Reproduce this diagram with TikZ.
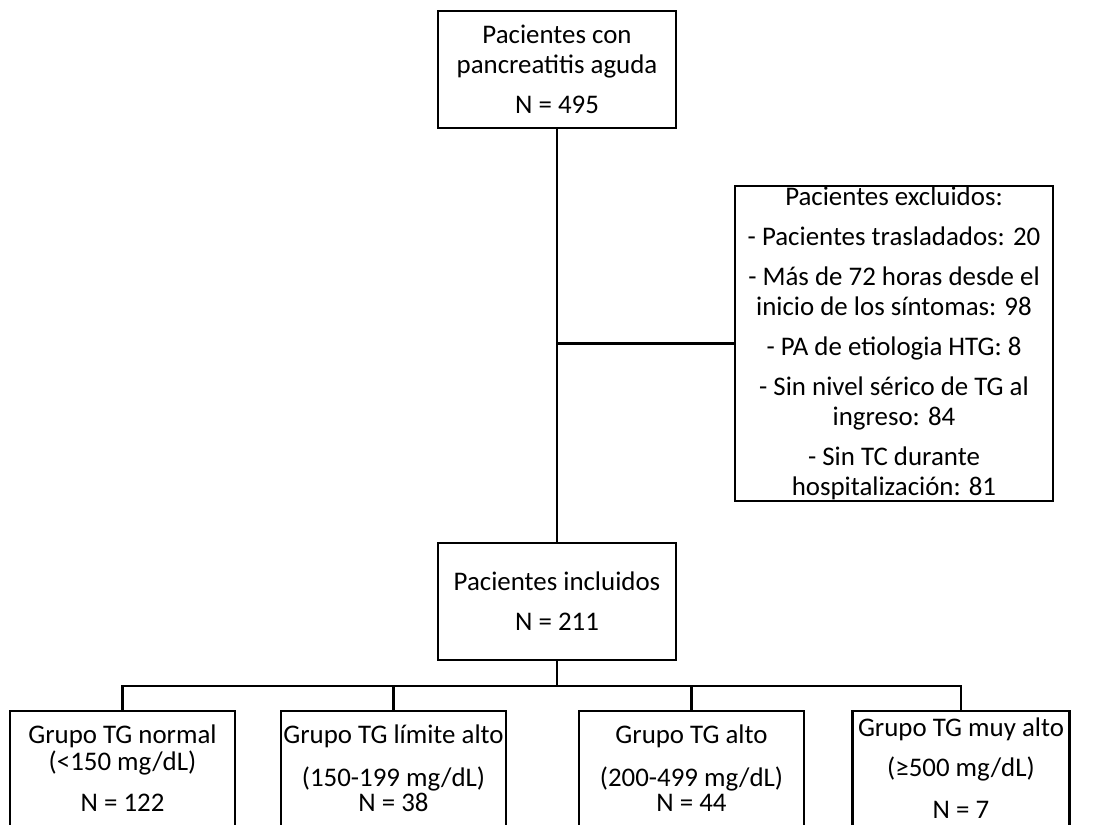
\documentclass[tikz,border=0pt]{standalone}
\usepackage{fontspec}
\setmainfont{Carlito}
\usetikzlibrary{calc}
\begin{document}
\begin{tikzpicture}[x=0.02cm,y=-0.02cm,font=\fontsize{15.3pt}{0.6cm}\selectfont,
box/.style={draw,line width=1.3pt,align=center,inner sep=0pt},
grp/.style={box,anchor=north,minimum width=4.5cm,inner ysep=0.27cm,text depth=1.2cm},
conn/.style={line width=1.3pt}]
\useasboundingbox (0,0) rectangle (1096,825);
\clip (0,0) rectangle (1096,825);
\node[box,minimum width=4.76cm,minimum height=2.34cm](t) at (557,69.5){Pacientes con\\pancreatitis aguda\\[0.2cm]N = 495};
\node[box,minimum width=6.36cm,minimum height=6.3cm](ex) at (894,343.5){Pacientes excluidos:\\[0.2cm]- Pacientes trasladados: 20\\[0.2cm]- Más de 72 horas desde el\\inicio de los síntomas: 98\\[0.2cm]- PA de etiologia HTG: 8\\[0.2cm]- Sin nivel sérico de TG al\\ingreso: 84\\[0.2cm]- Sin TC durante\\hospitalización: 81};
\node[box,minimum width=4.76cm,minimum height=2.34cm](inc) at (557,601.5){Pacientes incluidos\\[0.2cm]N = 211};
\node[grp](g1) at (122.5,710){Grupo TG normal\\[-0.06cm](<150 mg/dL)\\[0.22cm]N = 122};
\node[grp](g2) at (393.5,710){Grupo TG límite alto\\[0.26cm](150-199 mg/dL)\\[-0.1cm]N = 38};
\node[grp](g3) at (691.5,710){Grupo TG alto\\[0.26cm](200-499 mg/dL)\\[-0.1cm]N = 44};
\node[grp,minimum width=4.34cm,inner ysep=0.13cm](g4) at (961,710){Grupo TG muy alto\\[0.2cm](≥500 mg/dL)\\[0.24cm]N = 7};
\coordinate (j) at (t.south |- ex.west);
\coordinate (bus) at ($(inc.south)+(0,25)$);
\draw[conn](t)--(inc);
\draw[conn](j)--(ex);
\draw[conn](inc)--(bus);
\draw[conn](g1.north)|-(bus)-|(g4.north);
\draw[conn](g2.north)|-(bus);\draw[conn](g3.north)|-(bus);
\end{tikzpicture}
\end{document}
